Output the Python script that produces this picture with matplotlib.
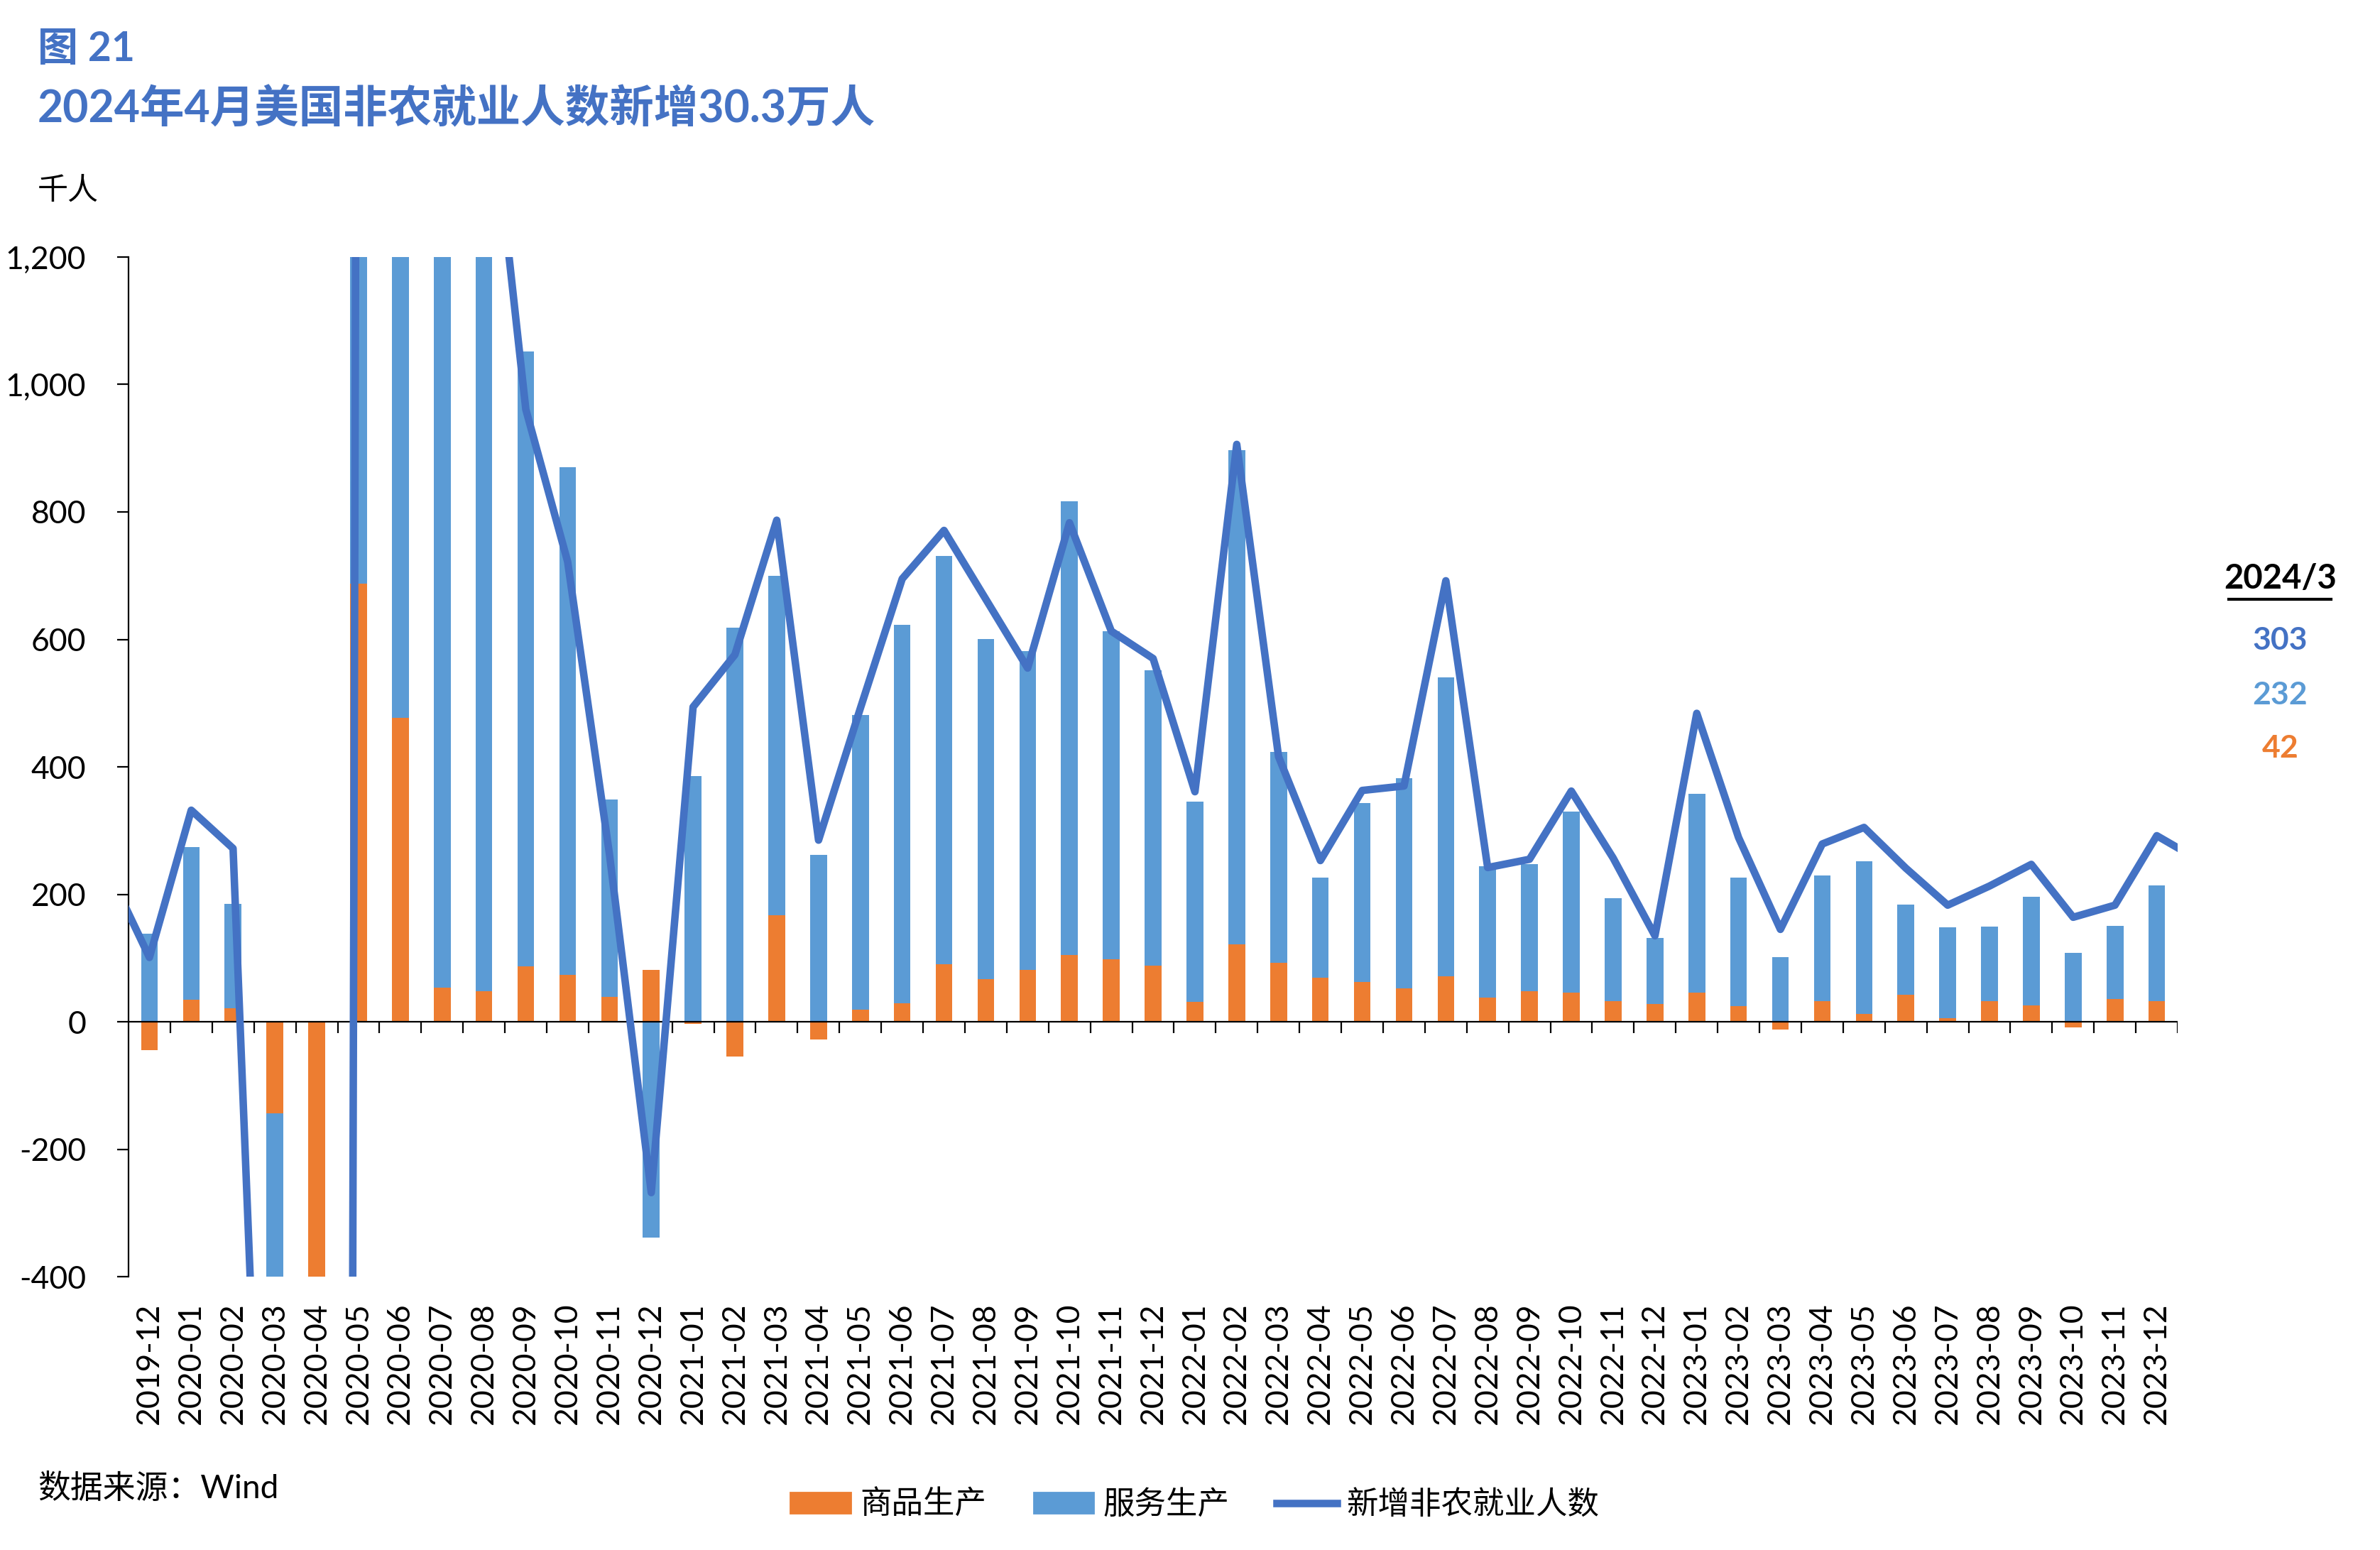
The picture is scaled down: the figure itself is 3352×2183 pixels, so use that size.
import numpy as np
import matplotlib
matplotlib.use('Agg')
import matplotlib.pyplot as plt
from matplotlib.ticker import FuncFormatter
from matplotlib.lines import Line2D
from matplotlib.patches import Patch

plt.rcParams['font.family'] = ['Lato', 'Noto Sans CJK SC', 'DejaVu Sans']

# months on the category axis
months = ['2019-12',
          '2020-01', '2020-02', '2020-03', '2020-04', '2020-05', '2020-06',
          '2020-07', '2020-08', '2020-09', '2020-10', '2020-11', '2020-12',
          '2021-01', '2021-02', '2021-03', '2021-04', '2021-05', '2021-06',
          '2021-07', '2021-08', '2021-09', '2021-10', '2021-11', '2021-12',
          '2022-01', '2022-02', '2022-03', '2022-04', '2022-05', '2022-06',
          '2022-07', '2022-08', '2022-09', '2022-10', '2022-11', '2022-12',
          '2023-01', '2023-02', '2023-03', '2023-04', '2023-05', '2023-06',
          '2023-07', '2023-08', '2023-09', '2023-10', '2023-11', '2023-12']

# 商品生产 (goods-producing), thousand persons
goods = [-45,
         35, 21, -144, -2393, 688, 477,
         54, 48, 87, 74, 39, 81,
         -3, -55, 167, -28, 19, 29,
         90, 67, 81, 105, 98, 88,
         31, 121, 93, 69, 62, 52,
         71, 38, 48, 46, 32, 28,
         46, 25, -12, 32, 12, 42,
         6, 32, 26, -9, 36, 32]

# 服务生产 (service-providing), thousand persons
services = [138,
            239, 164, -1229, -18078, 2145, 4304,
            1672, 1510, 965, 796, 310, -339,
            386, 618, 533, 262, 462, 594,
            641, 534, 501, 712, 515, 463,
            314, 776, 330, 157, 281, 330,
            469, 206, 199, 284, 162, 104,
            312, 201, 102, 198, 240, 142,
            142, 117, 170, 108, 115, 182]

# 新增非农就业人数, 2019-11 .. 2024-01 (first and last fall outside the axis)
nfp_months = ['2019-11'] + months + ['2024-01']
nfp = [239,
       101, 332, 272, -1373, -20471, 2833, 4781,
       1726, 1558, 961, 722, 263, -268,
       494, 576, 787, 285, 492, 695,
       771, 663, 555, 783, 613, 570,
       361, 906, 416, 253, 363, 370,
       692, 242, 255, 362, 257, 135,
       484, 289, 145, 279, 305, 241,
       183, 213, 247, 164, 183, 292,
       254]

latest_label = '2024/3'
latest_values = ['303', '232', '42']

c_goods = '#ED7D31'
c_serv = '#5B9BD5'
c_line = '#4472C4'

fig = plt.figure(figsize=(16.76, 10.915), dpi=200)
ax = fig.add_axes([0.054, 0.1763, 0.861, 0.6579])

x = np.arange(len(months))
g = np.array(goods, dtype=float)
s = np.array(services, dtype=float)
s_bottom = np.where(s >= 0, np.maximum(g, 0), np.minimum(g, 0))

ax.bar(x, g, width=0.4, color=c_goods, zorder=2)
ax.bar(x, s, width=0.4, bottom=s_bottom, color=c_serv, zorder=2)

xl = np.arange(-1, len(nfp) - 1)
ax.plot(xl, nfp, color=c_line, lw=3.8, solid_joinstyle='round',
        solid_capstyle='round', zorder=4)

ax.set_xlim(-0.5, len(months) - 0.5)
ax.set_ylim(-400, 1200)
ax.set_yticks(np.arange(-400, 1201, 200))
ax.yaxis.set_major_formatter(FuncFormatter(lambda v, p: f'{int(v):,}'))
ax.tick_params(axis='y', length=5.6, width=0.8, pad=16, labelsize=16, color='black')

ax.set_xticks(x)
ax.set_xticklabels(months, rotation=90, fontsize=16)
ax.tick_params(axis='x', length=0, pad=13)

for sp in ['top', 'right', 'bottom']:
    ax.spines[sp].set_visible(False)
ax.spines['left'].set_linewidth(0.8)

# zero line with category-boundary ticks
ax.axhline(0, color='black', lw=0.8, zorder=3)
ax.vlines(np.arange(0.5, len(months)), -18, 0, color='black', lw=0.8, zorder=3)

# titles
fig.text(0.0158, 0.968, '图 21', color=c_line, fontsize=20.5, fontweight='bold', va='center')
fig.text(0.0158, 0.930, '2024年4月美国非农就业人数新增30.3万人', color=c_line,
         fontsize=22.5, fontweight='bold', va='center')
fig.text(0.0158, 0.877, '千人', fontsize=15.5, va='center')
fig.text(0.0158, 0.0394, '数据来源：Wind', fontsize=16.5, va='center')

# latest reading on the right
fig.text(0.958, 0.6267, latest_label, fontsize=17, fontweight='bold', ha='center', va='center')
fig.add_artist(Line2D([0.9365, 0.9795], [0.6135, 0.6135], transform=fig.transFigure,
                      color='black', lw=1.5))
for val, col, yy in zip(latest_values, [c_line, c_serv, c_goods], [0.587, 0.5515, 0.517]):
    fig.text(0.958, yy, val, fontsize=16, fontweight='bold', color=col, ha='center', va='center')

handles = [Patch(color=c_goods), Patch(color=c_serv), Line2D([], [], color=c_line, lw=3.8)]
fig.legend(handles, ['商品生产', '服务生产', '新增非农就业人数'], loc='center',
           bbox_to_anchor=(0.502, 0.0293), ncol=3, frameon=False, fontsize=16,
           handlelength=1.9, handleheight=0.6, handletextpad=0.3, columnspacing=1.5)

fig.savefig('out.png', dpi=200)
